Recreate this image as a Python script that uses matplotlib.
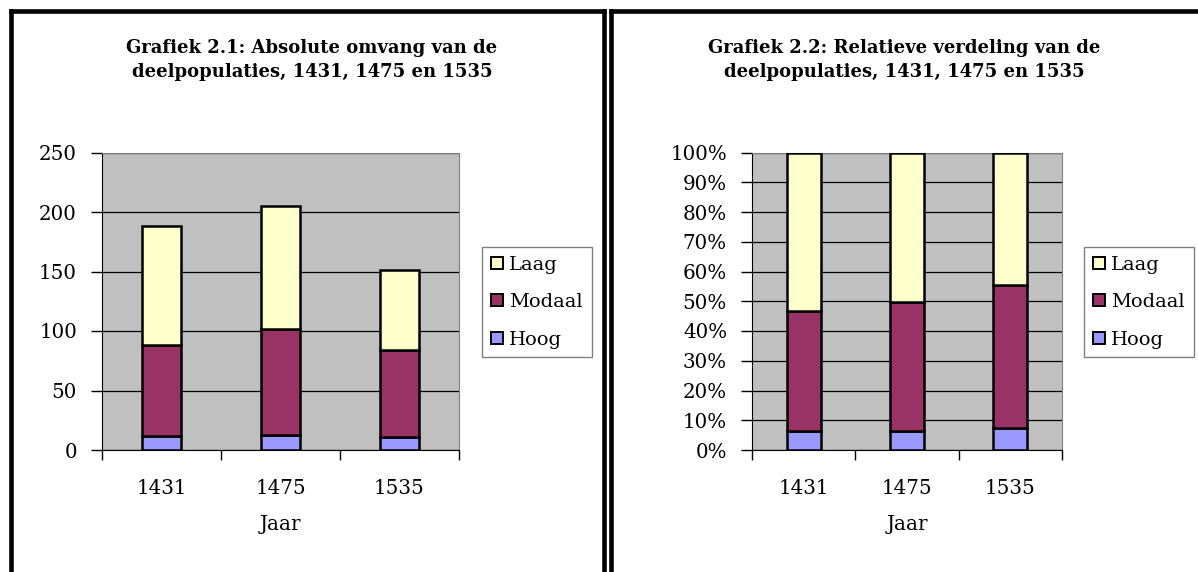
import matplotlib.pyplot as plt
import numpy as np
from matplotlib.lines import Line2D

jaren = ['1431', '1475', '1535']
hoog = np.array([12, 13, 11])
modaal = np.array([76, 89, 73])
laag = np.array([100, 103, 67])

kleur_hoog = '#9999FF'
kleur_modaal = '#993366'
kleur_laag = '#FFFFCC'
achtergrond = '#C0C0C0'

W, H = 1198, 572
fig = plt.figure(figsize=(W / 100, H / 100), dpi=100)
fig.patch.set_facecolor('white')
serif = 'DejaVu Serif'


def px_axes(x0, x1, y0, y1):
    # y gemeten vanaf de bovenkant van het plaatje
    return fig.add_axes([x0 / W, (H - y1) / H, (x1 - x0) / W, (y1 - y0) / H])


def opmaak(ax, ymax, stap, fmt):
    ax.set_facecolor(achtergrond)
    ax.set_xlim(-0.5, 2.5)
    ax.set_ylim(0, ymax)
    ax.set_yticks(np.arange(0, ymax + stap / 2, stap))
    ax.set_yticklabels([fmt(v) for v in np.arange(0, ymax + stap / 2, stap)],
                       family=serif, fontsize=14.3)
    ax.yaxis.grid(True, color='black', linewidth=0.9)
    ax.set_axisbelow(True)
    ax.set_xticks([-0.5, 0.5, 1.5, 2.5])
    ax.set_xticklabels([])
    ax.set_xticks([0, 1, 2], minor=True)
    ax.set_xticklabels(jaren, minor=True, family=serif, fontsize=14.3)
    ax.tick_params(axis='x', which='major', length=7, width=1, color='black')
    ax.tick_params(axis='x', which='minor', length=0, pad=21)
    ax.tick_params(axis='y', length=8, width=1, pad=10)
    ax.spines['left'].set_color('black')
    ax.spines['bottom'].set_color('black')
    ax.spines['top'].set_color('#808080')
    ax.spines['right'].set_color('#808080')
    ax.set_xlabel('Jaar', family=serif, fontsize=14.3, labelpad=12)


def staven(ax, h, m, l):
    x = np.arange(len(jaren))
    kw = dict(width=0.33, edgecolor='black', linewidth=1.8, zorder=3)
    ax.bar(x, h, color=kleur_hoog, **kw)
    ax.bar(x, m, bottom=h, color=kleur_modaal, **kw)
    ax.bar(x, l, bottom=h + m, color=kleur_laag, **kw)


# Grafiek 2.1
ax1 = px_axes(102, 459, 152.5, 450)
staven(ax1, hoog, modaal, laag)
opmaak(ax1, 250, 50, lambda v: f'{v:.0f}')

# Grafiek 2.2
totaal = hoog + modaal + laag
ax2 = px_axes(752, 1062, 152.5, 450)
staven(ax2, hoog / totaal, modaal / totaal, laag / totaal)
opmaak(ax2, 1.0, 0.1, lambda v: f'{v * 100:.0f}%')

fig.text(312 / W, 1 - 60 / H,
         'Grafiek 2.1: Absolute omvang van de\ndeelpopulaties, 1431, 1475 en 1535',
         ha='center', va='center', family=serif, fontweight='bold', fontsize=13,
         linespacing=1.4)
fig.text(904 / W, 1 - 60 / H,
         'Grafiek 2.2: Relatieve verdeling van de\ndeelpopulaties, 1431, 1475 en 1535',
         ha='center', va='center', family=serif, fontweight='bold', fontsize=13,
         linespacing=1.4)


def blokje(kleur, naam):
    return Line2D([], [], linestyle='None', marker='s', markersize=8,
                  markerfacecolor=kleur, markeredgecolor='black',
                  markeredgewidth=1.4, label=naam)


handles = [blokje(kleur_laag, 'Laag'), blokje(kleur_modaal, 'Modaal'),
           blokje(kleur_hoog, 'Hoog')]

for x0 in [482, 1084]:
    leg = fig.legend(handles=handles, loc='upper left',
                     bbox_to_anchor=(x0 / W, 1 - 247 / H),
                     borderaxespad=0, frameon=True, fancybox=False,
                     edgecolor='#808080', framealpha=1,
                     prop={'family': serif, 'size': 14},
                     handlelength=0.6, handletextpad=0.35,
                     labelspacing=1.0, borderpad=0.45)
    leg.get_frame().set_linewidth(1.0)

# zwarte kaders om beide panelen
lw = 3.3
kaders = [([10.5, 10.5], [572, 10.5]), ([10.5, 604], [10.5, 10.5]), ([604, 604], [10.5, 572]),
          ([610.5, 610.5], [572, 10.5]), ([610.5, 1198], [10.5, 10.5])]
for xs, ys in kaders:
    fig.add_artist(Line2D([x / W for x in xs], [1 - y / H for y in ys],
                          transform=fig.transFigure, color='black', linewidth=lw,
                          solid_capstyle='projecting'))

fig.savefig('out.png', dpi=100)
